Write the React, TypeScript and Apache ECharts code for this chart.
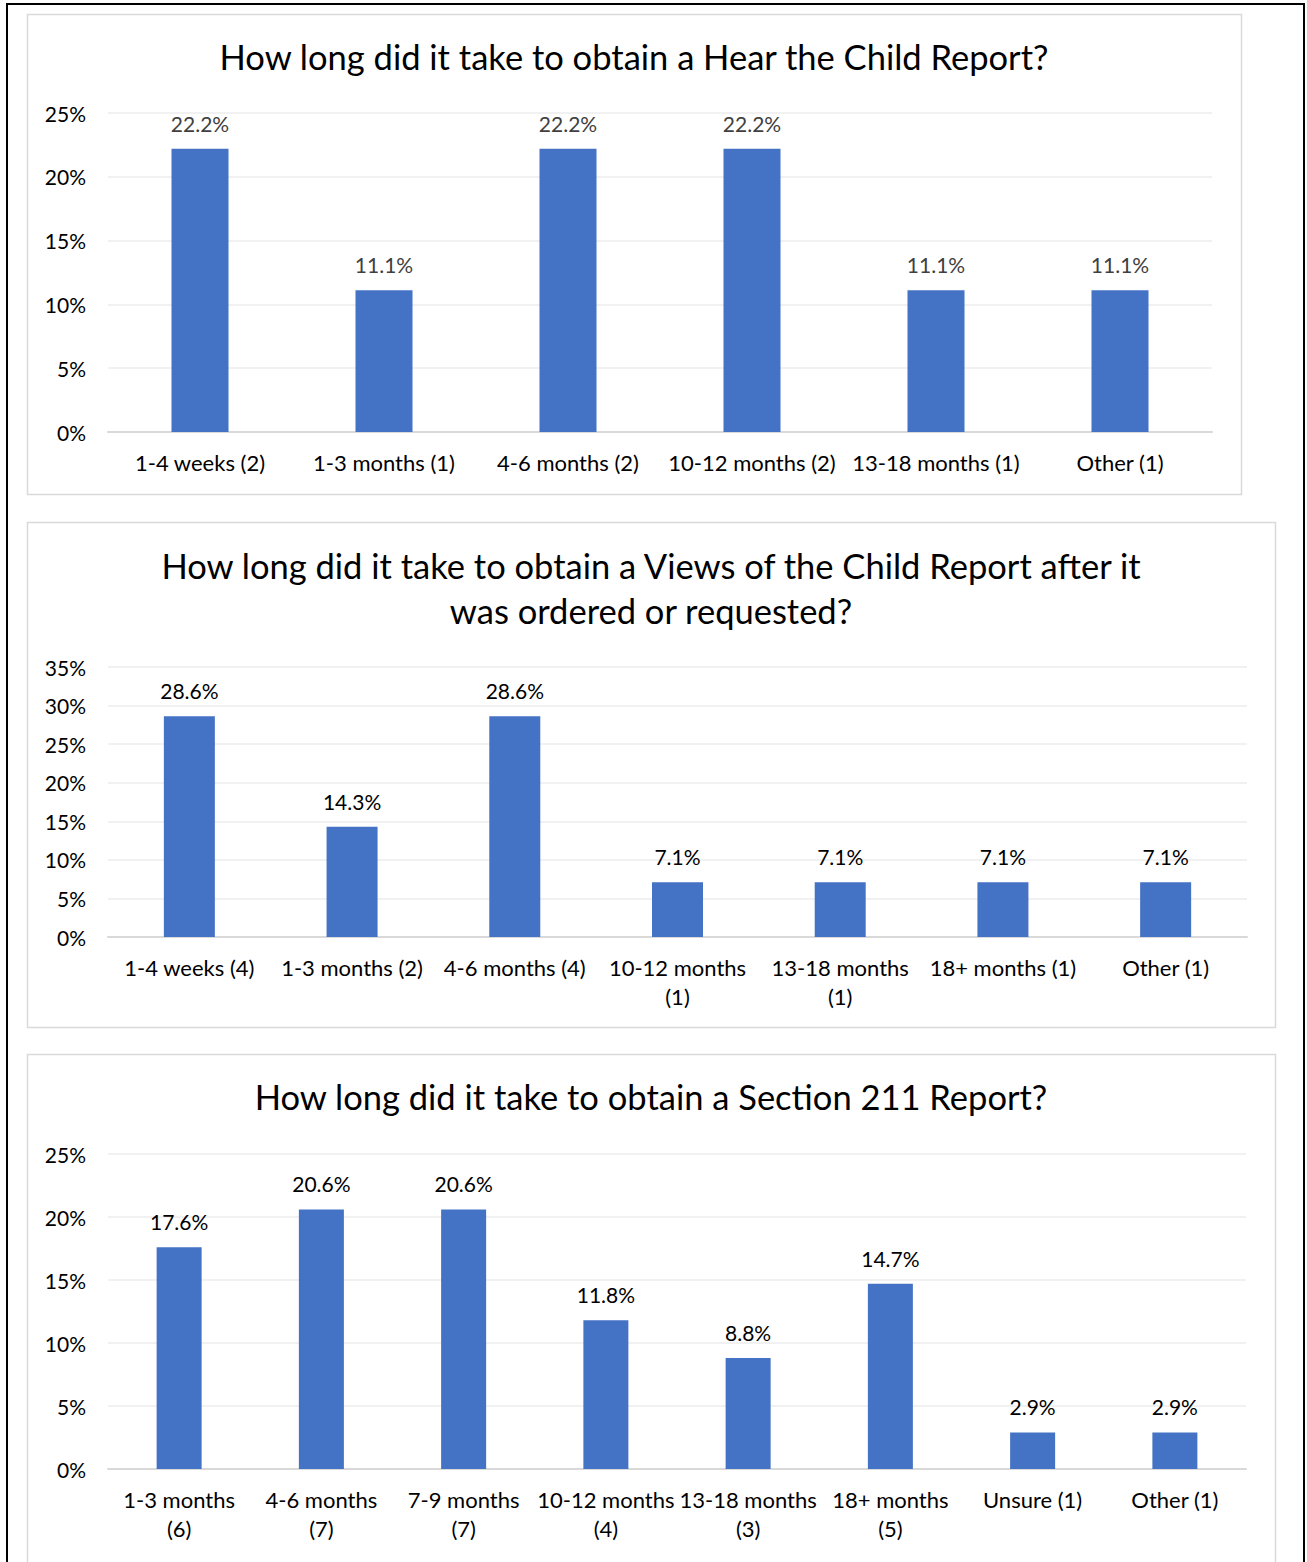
import React, { useEffect, useRef } from "react";
import * as echarts from "echarts";

// Hear the Child Report
const hearCategories = ["1-4 weeks (2)", "1-3 months (1)", "4-6 months (2)", "10-12 months (2)", "13-18 months (1)", "Other (1)"];
const hearValues = [22.2, 11.1, 22.2, 22.2, 11.1, 11.1];

// Views of the Child Report
const viewsCategories = ["1-4 weeks (4)", "1-3 months (2)", "4-6 months (4)", "10-12 months\n(1)", "13-18 months\n(1)", "18+ months (1)", "Other (1)"];
const viewsValues = [28.6, 14.3, 28.6, 7.1, 7.1, 7.1, 7.1];

// Section 211 Report
const s211Categories = ["1-3 months\n(6)", "4-6 months\n(7)", "7-9 months\n(7)", "10-12 months\n(4)", "13-18 months\n(3)", "18+ months\n(5)", "Unsure (1)", "Other (1)"];
const s211Values = [17.6, 20.6, 20.6, 11.8, 8.8, 14.7, 2.9, 2.9];

const titles = [
  "How long did it take to obtain a Hear the Child Report?",
  "How long did it take to obtain a Views of the Child Report after it\nwas ordered or requested?",
  "How long did it take to obtain a Section 211 Report?",
];

const FONT = "Lato, 'Noto Sans', sans-serif";
const BAR = "#4472C4";

export default function App() {
  const ref = useRef<HTMLDivElement>(null);

  useEffect(() => {
    if (!ref.current) return;
    const chart = echarts.init(ref.current, undefined, { renderer: "svg" });

    const grids = [
      { left: 108, top: 113, width: 1104, height: 319 },
      { left: 108, top: 667, width: 1139, height: 270 },
      { left: 108, top: 1154, width: 1138, height: 315 },
    ];
    const cats = [hearCategories, viewsCategories, s211Categories];
    const vals = [hearValues, viewsValues, s211Values];
    const maxes = [25, 35, 25];
    const barWidths = [57, 51, 45];
    const labelColors = ["#404040", "#000000", "#000000"];

    const option: echarts.EChartsOption = {
      animation: false,
      backgroundColor: "#ffffff",
      textStyle: { fontFamily: FONT },
      grid: grids.map((g) => ({ ...g, containLabel: false })),
      xAxis: cats.map((c, i) => ({
        type: "category",
        gridIndex: i,
        data: c,
        axisTick: { show: false },
        axisLine: { lineStyle: { color: "#D9D9D9", width: 2 } },
        axisLabel: {
          color: "#000",
          fontFamily: FONT,
          fontSize: 22,
          margin: 16,
          lineHeight: 29,
          interval: 0,
        },
      })),
      yAxis: maxes.map((m, i) => ({
        type: "value",
        gridIndex: i,
        min: 0,
        max: m,
        interval: 5,
        axisLine: { show: false },
        axisTick: { show: false },
        splitLine: { lineStyle: { color: "#EDEDED", width: 1.5 } },
        axisLabel: {
          color: "#000",
          fontFamily: FONT,
          fontSize: 21,
          margin: 22,
          padding: [0, 0, 3, 0],
          formatter: "{value}%",
        },
      })),
      series: vals.map((v, i) => ({
        type: "bar",
        xAxisIndex: i,
        yAxisIndex: i,
        data: v,
        barWidth: barWidths[i],
        itemStyle: { color: BAR },
        label: {
          show: true,
          position: "top",
          distance: 15,
          color: labelColors[i],
          fontFamily: FONT,
          fontSize: 21,
          formatter: "{c}%",
        },
      })),
      graphic: [
        // page frame
        {
          type: "rect",
          shape: { x: 7, y: 4, width: 1297, height: 1600 },
          style: { fill: "none", stroke: "#000", lineWidth: 2 },
          silent: true,
        },
        // panel borders
        {
          type: "rect",
          shape: { x: 27.5, y: 14.5, width: 1214, height: 480 },
          style: { fill: "none", stroke: "#D9D9D9", lineWidth: 1.5 },
          silent: true,
        },
        {
          type: "rect",
          shape: { x: 27.5, y: 522.5, width: 1248, height: 505 },
          style: { fill: "none", stroke: "#D9D9D9", lineWidth: 1.5 },
          silent: true,
        },
        {
          type: "rect",
          shape: { x: 27.5, y: 1054.5, width: 1248, height: 560 },
          style: { fill: "none", stroke: "#D9D9D9", lineWidth: 1.5 },
          silent: true,
        },
        // titles
        {
          type: "text",
          x: 634,
          y: 56.5,
          style: {
            text: titles[0],
            font: `34.5px ${FONT}`,
            fill: "#000",
            textAlign: "center",
            textVerticalAlign: "middle",
          },
        },
        {
          type: "text",
          x: 651,
          y: 588,
          style: {
            text: titles[1],
            font: `34.5px ${FONT}`,
            lineHeight: 45,
            fill: "#000",
            textAlign: "center",
            textVerticalAlign: "middle",
          },
        },
        {
          type: "text",
          x: 651,
          y: 1096.5,
          style: {
            text: titles[2],
            font: `34.5px ${FONT}`,
            fill: "#000",
            textAlign: "center",
            textVerticalAlign: "middle",
          },
        },
      ],
    };

    chart.setOption(option);
    return () => chart.dispose();
  }, []);

  return (
    <div
      ref={ref}
      style={{ position: "absolute", left: 0, top: 0, width: 1307, height: 1562 }}
    />
  );
}
